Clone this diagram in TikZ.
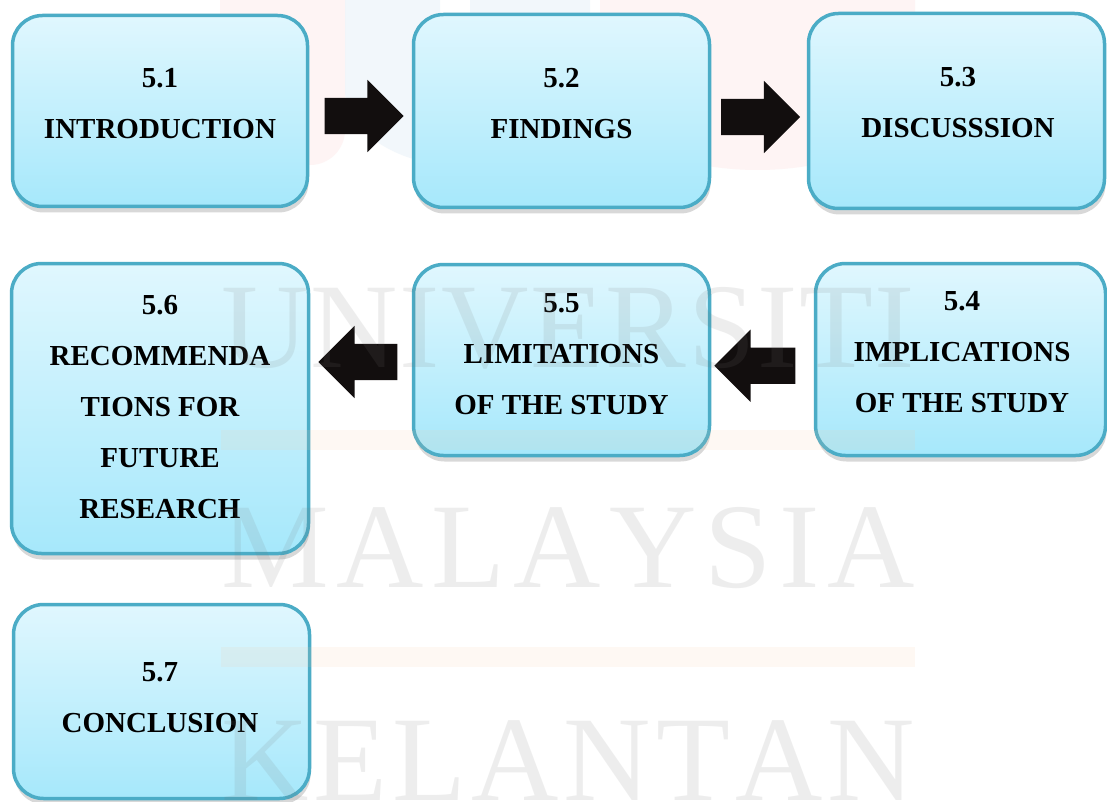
\documentclass[tikz,border=0pt]{standalone}
\usepackage{fontspec}
\setmainfont{Liberation Serif}
\usetikzlibrary{shapes.arrows,shadows,calc}
\definecolor{boxline}{RGB}{75,172,198}
\definecolor{boxtop}{RGB}{224,247,254}
\definecolor{boxbot}{RGB}{166,232,251}
\definecolor{arrowfill}{RGB}{18,14,14}
\definecolor{wmgray}{RGB}{120,120,120}
\definecolor{wmorange}{RGB}{250,200,160}
\definecolor{wmpink}{RGB}{250,190,190}
\definecolor{wmblue}{RGB}{190,215,235}
\tikzset{
  stagebox/.style={draw=boxline, line width=3.5pt, rounded corners=30pt,
    top color=boxtop, bottom color=boxbot, inner sep=0pt,
    drop shadow={shadow xshift=1pt, shadow yshift=-6pt, opacity=0.3, fill=gray}},
  stagetext/.style={inner sep=0pt, align=center,
    font=\fontsize{29}{51}\selectfont\bfseries},
  blockarrow/.style={single arrow, fill=arrowfill, draw=none,
    inner xsep=0pt, inner ysep=18pt, text width=0pt,
    minimum width=72pt, minimum height=79pt, single arrow head extend=18pt},
  wmtext/.style={inner sep=0pt, anchor=base west, text=wmgray, text opacity=0.13,
    font=\fontsize{121}{121}\selectfont},
}
\begin{document}
\begin{tikzpicture}[x=1pt,y=-1pt]
\useasboundingbox (0,0) rectangle (1107,802);
\fill[white] (0,0) rectangle (1107,802);

% faint logo of the watermark
\fill[wmpink, opacity=0.17] (220,0) -- (345,0) -- (345,130) arc[start angle=0, end angle=90, radius=35] -- (250,165) arc[start angle=90, end angle=180, radius=30] -- cycle;
\fill[wmblue, opacity=0.2] (345,0) -- (440,0) -- (440,35) arc[start angle=180, end angle=0, radius=15] -- (470,0) -- (590,0) -- (590,90) arc[start angle=0, end angle=180, x radius=122.5, y radius=77] -- cycle;
\fill[wmpink, opacity=0.17] (600,0) -- (915,0) -- (915,90) arc[start angle=0, end angle=180, x radius=157.5, y radius=80] -- cycle;

% boxes
\node[stagebox, minimum width=295pt, minimum height=191pt] (b1) at (160,111) {};
\node[stagebox, minimum width=296pt, minimum height=193pt] (b2) at (561.5,111) {};
\node[stagebox, minimum width=296pt, minimum height=195pt] (b3) at (956.5,111) {};
\node[stagebox, minimum width=290pt, minimum height=192pt] (b4) at (960.5,359.5) {};
\node[stagebox, minimum width=296pt, minimum height=191pt] (b5) at (561.5,360) {};
\node[stagebox, minimum width=297pt, minimum height=290pt] (b6) at (160,408.5) {};
\node[stagebox, minimum width=296pt, minimum height=194pt] (b7) at (161.5,701.5) {};

% labels
\node[stagetext] (t1) at (160,103.7) {5.1\\INTRODUCTION};
\node[stagetext] (t2) at (561.5,103.7) {5.2\\FINDINGS};
\node[stagetext] (t3) at (958,102.7) {5.3\\DISCUSSSION};
\node[stagetext] (t4) at (962,352.2) {5.4\\IMPLICATIONS\\OF THE STUDY};
\node[stagetext] (t5) at (561.5,354.2) {5.5\\LIMITATIONS\\OF THE STUDY};
\node[stagetext] (t6) at (160,406.7) {5.6\\RECOMMENDA\\TIONS FOR\\FUTURE\\RESEARCH};
\node[stagetext] (t7) at (160,697.2) {5.7\\CONCLUSION};

% block arrows between boxes
\node[blockarrow] (a1) at ($(b1.east)!0.5!(b2.west)+(-5.5,5)$) {};
\node[blockarrow] (a2) at ($(b2.east)!0.5!(b3.west)+(-7.5,6)$) {};
\node[blockarrow, shape border rotate=180] (a3) at ($(b5.west)!0.5!(b6.east|-b5.west)+(6,2)$) {};
\node[blockarrow, shape border rotate=180, minimum height=81pt] (a4) at ($(b4.west)!0.5!(b5.east)+(1.5,6)$) {};

% watermark
\fill[wmorange, opacity=0.12] (221,430) rectangle (915,450);
\fill[wmorange, opacity=0.12] (221,647) rectangle (915,667);
\node[wmtext] (w1) at (221,367) {\hbox to 694pt{U\hfill N\hfill I\hfill V\hfill E\hfill R\hfill S\hfill I\hfill T\hfill I}};
\node[wmtext] (w2) at (221,587) {\hbox to 694pt{M\hfill A\hfill L\hfill A\hfill Y\hfill S\hfill I\hfill A}};
\node[wmtext] (w3) at (221,800) {\hbox to 694pt{K\hfill E\hfill L\hfill A\hfill N\hfill T\hfill A\hfill N}};
\end{tikzpicture}
\end{document}
